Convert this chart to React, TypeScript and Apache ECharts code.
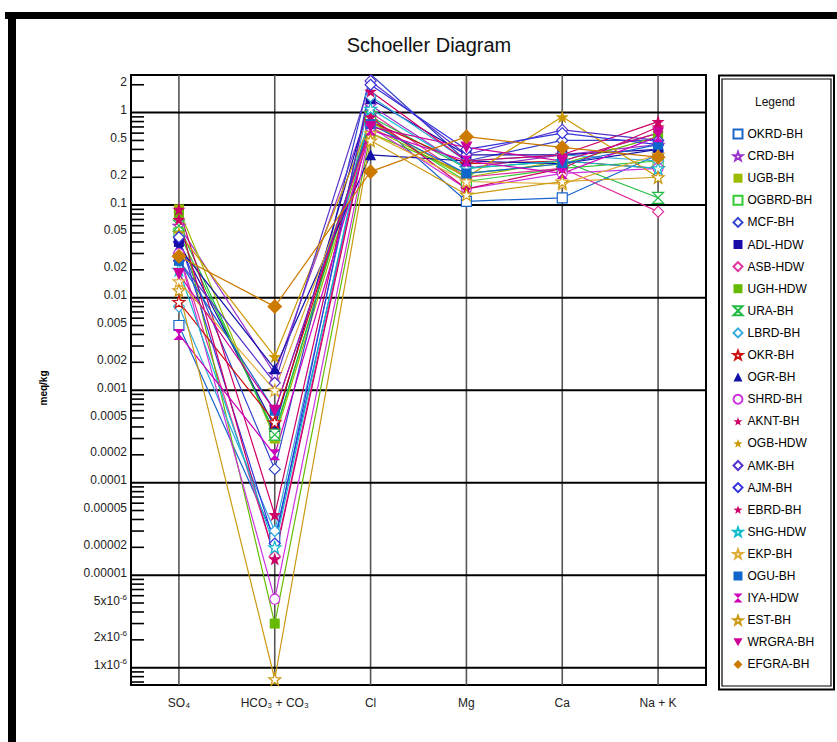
import React, { useEffect, useRef } from 'react';
import * as echarts from 'echarts';

const FONT = '"Liberation Sans", Arial, sans-serif';

// Categories (x axis)
const categories = ['SO₄', 'HCO₃ + CO₃', 'Cl', 'Mg', 'Ca', 'Na + K'];

// Values per sample in meq/kg: [SO4, HCO3+CO3, Cl, Mg, Ca, Na+K]
const OKRD_BH = [0.005, 2.5e-5, 0.9, 0.11, 0.12, 0.35];
const CRD_BH = [0.06, 0.0015, 1.2, 0.25, 0.35, 0.45];
const UGB_BH = [0.09, 0.0003, 0.7, 0.2, 0.3, 0.6];
const OGBRD_BH = [0.05, 0.00035, 0.8, 0.18, 0.25, 0.3];
const MCF_BH = [0.04, 0.00014, 2.6, 0.3, 0.5, 0.5];
const ADL_HDW = [0.04, 0.0004, 1.4, 0.35, 0.35, 0.4];
const ASB_HDW = [0.03, 1.6e-5, 1.0, 0.2, 0.25, 0.085];
const UGH_HDW = [0.08, 3e-6, 0.6, 0.22, 0.28, 0.55];
const URA_BH = [0.06, 0.00033, 0.9, 0.25, 0.3, 0.12];
const LBRD_BH = [0.008, 3e-5, 1.5, 0.3, 0.35, 0.3];
const OKR_BH = [0.009, 0.00045, 0.8, 0.28, 0.3, 0.25];
const OGR_BH = [0.035, 0.0017, 0.35, 0.3, 0.28, 0.4];
const SHRD_BH = [0.03, 5.5e-6, 0.7, 0.15, 0.22, 0.25];
const AKNT_BH = [0.09, 4.5e-5, 1.7, 0.3, 0.35, 0.8];
const OGB_HDW = [0.05, 0.0023, 0.8, 0.2, 0.9, 0.2];
const AMK_BH = [0.025, 0.0012, 2.2, 0.35, 0.65, 0.5];
const AJM_BH = [0.045, 2.2e-5, 2.0, 0.4, 0.6, 0.45];
const EBRD_BH = [0.07, 1.5e-5, 0.9, 0.15, 0.25, 0.7];
const SHG_HDW = [0.02, 2e-5, 1.1, 0.25, 0.3, 0.25];
const EKP_BH = [0.015, 0.001, 0.6, 0.18, 0.17, 0.35];
const OGU_BH = [0.025, 0.0006, 0.75, 0.22, 0.28, 0.45];
const IYA_HDW = [0.004, 0.0002, 0.65, 0.3, 0.22, 0.55];
const EST_BH = [0.012, 7.5e-7, 0.5, 0.13, 0.18, 0.2];
const WRGRA_BH = [0.018, 0.0006, 0.7, 0.42, 0.3, 0.6];
const EFGRA_BH = [0.028, 0.008, 0.23, 0.55, 0.42, 0.33];

const seriesNames = [
  'OKRD-BH', 'CRD-BH', 'UGB-BH', 'OGBRD-BH', 'MCF-BH', 'ADL-HDW', 'ASB-HDW', 'UGH-HDW',
  'URA-BH', 'LBRD-BH', 'OKR-BH', 'OGR-BH', 'SHRD-BH', 'AKNT-BH', 'OGB-HDW', 'AMK-BH',
  'AJM-BH', 'EBRD-BH', 'SHG-HDW', 'EKP-BH', 'OGU-BH', 'IYA-HDW', 'EST-BH', 'WRGRA-BH', 'EFGRA-BH',
];
const seriesValues = [
  OKRD_BH, CRD_BH, UGB_BH, OGBRD_BH, MCF_BH, ADL_HDW, ASB_HDW, UGH_HDW,
  URA_BH, LBRD_BH, OKR_BH, OGR_BH, SHRD_BH, AKNT_BH, OGB_HDW, AMK_BH,
  AJM_BH, EBRD_BH, SHG_HDW, EKP_BH, OGU_BH, IYA_HDW, EST_BH, WRGRA_BH, EFGRA_BH,
];
const seriesColors = [
  '#1a66cc', '#9933cc', '#99bb00', '#33cc33', '#3344cc', '#1a0aa8', '#e0309a', '#66bb00',
  '#22bb44', '#33aadd', '#cc1111', '#1111aa', '#cc33dd', '#cc0066', '#cc9900', '#5533cc',
  '#3333dd', '#cc0066', '#11bbcc', '#ddaa33', '#1166cc', '#cc00bb', '#cc9911', '#cc0099', '#cc7a00',
];
// symbol kind, filled?
const seriesSymbols = [
  'rect', 'star', 'rect', 'rect', 'diamond', 'rect', 'diamond', 'rect',
  'hourglass', 'diamond', 'star', 'triangle', 'circle', 'star', 'star', 'diamond',
  'diamond', 'star', 'star', 'star', 'rect', 'hourglass', 'star', 'down', 'diamond',
];
const seriesFilled = [
  false, false, true, false, false, true, false, true,
  false, false, false, true, false, true, true, false,
  false, true, false, false, true, true, false, true, true,
];

// y-axis decoration
const yMin = 6.5e-7;
const yMax = 2.55;
const decadeValues = [1, 0.1, 0.01, 0.001, 0.0001, 0.00001, 0.000001];
const minorTickValues = [
  2, 0.9, 0.8, 0.7, 0.6, 0.5, 0.4, 0.3, 0.2,
  0.09, 0.08, 0.07, 0.06, 0.05, 0.04, 0.03, 0.02,
  0.009, 0.008, 0.007, 0.006, 0.005, 0.004, 0.003, 0.002,
  0.0009, 0.0008, 0.0007, 0.0006, 0.0005, 0.0004, 0.0003, 0.0002,
  0.00009, 0.00008, 0.00007, 0.00006, 0.00005, 0.00004, 0.00003, 0.00002,
  0.000009, 0.000008, 0.000007, 0.000006, 0.000005, 0.000004, 0.000003, 0.000002,
  0.0000009, 0.0000008, 0.0000007,
];
const yTickLabelValues = [
  2, 1, 0.5, 0.2, 0.1, 0.05, 0.02, 0.01, 0.005, 0.002, 0.001, 0.0005, 0.0002, 0.0001,
  0.00005, 0.00002, 0.00001, 0.000005, 0.000002, 0.000001,
];
const yTickLabelTexts = [
  '2', '1', '0.5', '0.2', '0.1', '0.05', '0.02', '0.01', '0.005', '0.002', '0.001', '0.0005',
  '0.0002', '0.0001', '0.00005', '0.00002', '0.00001', '5x10{sup|-6}', '2x10{sup|-6}', '1x10{sup|-6}',
];

const STAR = 'path://M5,0 L6.176,3.382 L9.755,3.455 L6.902,5.618 L7.939,9.045 L5,7 L2.061,9.045 L3.098,5.618 L0.245,3.455 L3.824,3.382 Z';
const HOURGLASS = 'path://M0,0 L10,0 L5,5 L10,10 L0,10 L5,5 Z';
const DOWN = 'path://M0,0 L10,0 L5,9 Z';

function symbolFor(kind: string) {
  switch (kind) {
    case 'star': return STAR;
    case 'hourglass': return HOURGLASS;
    case 'down': return DOWN;
    default: return kind;
  }
}
function sizeFor(kind: string, filled: boolean, name: string) {
  if (name === 'EFGRA-BH') return 15;
  if (kind === 'star') return filled ? 13 : 12;
  if (kind === 'diamond') return 11;
  if (kind === 'down') return 12;
  if (kind === 'hourglass') return 11;
  if (kind === 'circle') return 10;
  if (kind === 'triangle') return 11;
  return 10;
}

type DecoItem = { kind: string; v: number; text?: string; cat?: number };

export default function App() {
  const ref = useRef<HTMLDivElement>(null);

  useEffect(() => {
    if (!ref.current) return;
    const chart = echarts.init(ref.current, undefined, { renderer: 'svg' });

    const deco: DecoItem[] = [];
    categories.forEach((_, i) => deco.push({ kind: 'vgrid', v: 1, cat: i }));
    decadeValues.forEach((v) => deco.push({ kind: 'decade', v }));
    minorTickValues.forEach((v) => deco.push({ kind: 'minor', v }));
    yTickLabelValues.forEach((v, i) => deco.push({ kind: 'label', v, text: yTickLabelTexts[i] }));

    const lineSeries = seriesNames.map((name, i) => {
      const c = seriesColors[i];
      const filled = seriesFilled[i];
      const kind = seriesSymbols[i];
      return {
        type: 'line',
        name,
        data: seriesValues[i],
        symbol: symbolFor(kind),
        symbolSize: sizeFor(kind, filled, name),
        z: 3,
        lineStyle: { color: c, width: 1.2 },
        itemStyle: {
          color: filled ? c : '#ffffff',
          borderColor: c,
          borderWidth: filled ? 0 : 1.2,
          opacity: 1,
        },
        emphasis: { disabled: true },
      };
    });

    const decoSeries = {
      type: 'custom',
      name: 'axis-decoration',
      z: 1,
      silent: true,
      data: deco.map((d) => [d.cat ?? 0, d.v]),
      renderItem: (params: any, api: any) => {
        const d = deco[params.dataIndex];
        const cs = params.coordSys;
        if (d.kind === 'vgrid') {
          const x = api.coord([d.cat, 1])[0];
          return {
            type: 'line',
            shape: { x1: x, y1: cs.y, x2: x, y2: cs.y + cs.height },
            style: { stroke: '#555', lineWidth: 1.6 },
          };
        }
        const y = api.coord([0, d.v])[1];
        if (d.kind === 'decade') {
          return {
            type: 'line',
            shape: { x1: cs.x, y1: y, x2: cs.x + cs.width, y2: y },
            style: { stroke: '#000', lineWidth: 2 },
          };
        }
        if (d.kind === 'minor') {
          return {
            type: 'line',
            shape: { x1: cs.x, y1: y, x2: cs.x + 13, y2: y },
            style: { stroke: '#000', lineWidth: 1.6 },
          };
        }
        return {
          type: 'text',
          x: cs.x - 4,
          y: y - 2.5,
          style: {
            text: d.text,
            fill: '#222',
            fontSize: 12,
            fontFamily: FONT,
            align: 'right',
            verticalAlign: 'middle',
            rich: {
              sup: { fontSize: 8, fontFamily: FONT, fill: '#222', padding: [0, 0, 7, 0] },
            },
          },
        };
      },
    };

    chart.setOption({
      animation: false,
      backgroundColor: '#ffffff',
      grid: {
        left: 131,
        right: 131,
        top: 75,
        bottom: 57,
        show: true,
        borderColor: '#000',
        borderWidth: 2,
        backgroundColor: 'transparent',
      },
      xAxis: {
        type: 'category',
        data: categories,
        boundaryGap: true,
        axisLine: { show: true, lineStyle: { color: '#000', width: 2 } },
        axisTick: { show: false },
        splitLine: { show: false },
        axisLabel: { color: '#222', fontSize: 12, fontFamily: FONT, margin: 12 },
      },
      yAxis: {
        type: 'log',
        logBase: 10,
        min: yMin,
        max: yMax,
        axisLine: { show: true, lineStyle: { color: '#000', width: 2 } },
        axisTick: { show: false },
        axisLabel: { show: false },
        splitLine: { show: false },
        minorTick: { show: false },
        minorSplitLine: { show: false },
      },
      legend: {
        orient: 'vertical',
        left: 732.5,
        top: 127,
        padding: 0,
        itemWidth: 9,
        itemHeight: 9,
        itemGap: 8.1,
        selectedMode: false,
        textStyle: { color: '#000', fontSize: 12, fontFamily: FONT, lineHeight: 14 },
        data: seriesNames.map((n, i) => ({ name: n, icon: symbolFor(seriesSymbols[i]) })),
      },
      graphic: [
        { type: 'rect', shape: { x: 5, y: 12, width: 840, height: 7 }, style: { fill: '#000' } },
        { type: 'rect', shape: { x: 8, y: 12, width: 8, height: 740 }, style: { fill: '#000' } },
        {
          type: 'text',
          x: 429,
          y: 45,
          style: { text: 'Schoeller Diagram', fontSize: 20, fontFamily: FONT, fill: '#111', align: 'center', verticalAlign: 'middle' },
        },
        {
          type: 'text',
          x: 43,
          y: 388,
          rotation: Math.PI / 2,
          style: { text: 'meq/kg', fontSize: 10, fontWeight: 'bold', fontFamily: FONT, fill: '#000', align: 'center', verticalAlign: 'middle' },
        },
        { type: 'rect', shape: { x: 719, y: 75.5, width: 115, height: 614 }, style: { fill: 'none', stroke: '#000', lineWidth: 2 } },
        { type: 'rect', shape: { x: 722, y: 79, width: 109, height: 607 }, style: { fill: 'none', stroke: '#000', lineWidth: 1.2 } },
        {
          type: 'text',
          x: 775,
          y: 102,
          style: { text: 'Legend', fontSize: 12, fontFamily: FONT, fill: '#111', align: 'center', verticalAlign: 'middle' },
        },
      ],
      series: [decoSeries, ...lineSeries],
    });

    return () => chart.dispose();
  }, []);

  return (
    <div
      ref={ref}
      style={{ position: 'absolute', left: 0, top: 0, width: 837, height: 742, background: '#fff' }}
    />
  );
}
